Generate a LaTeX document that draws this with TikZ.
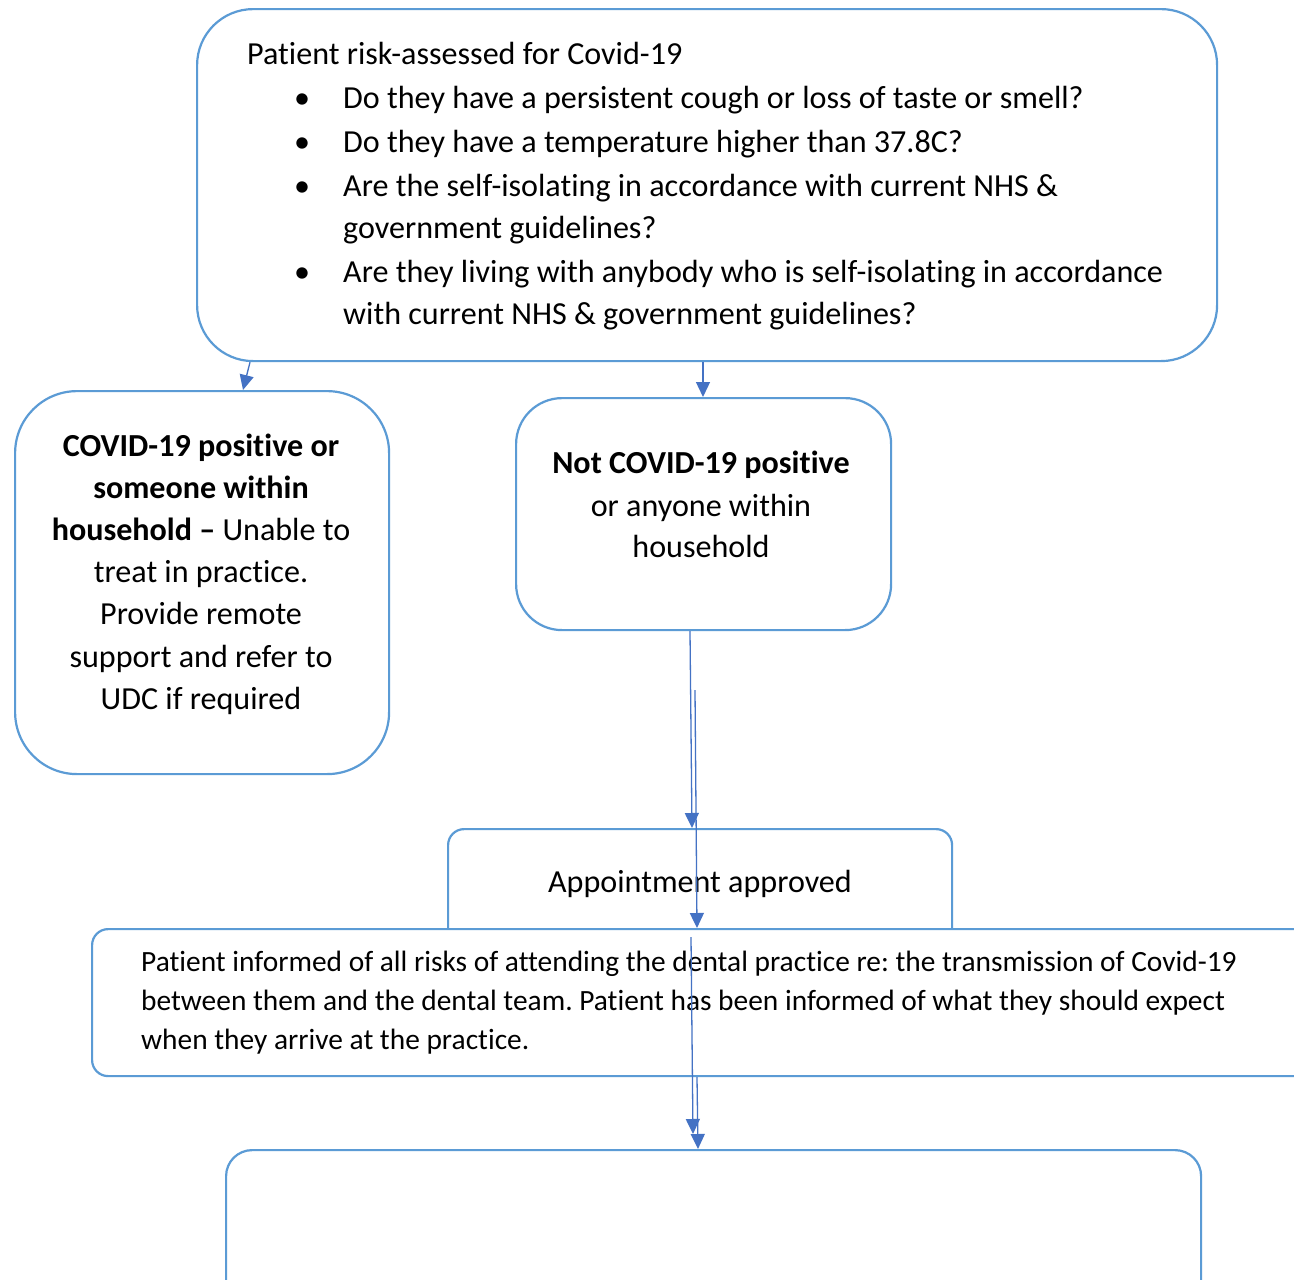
\documentclass[tikz,border=0pt]{standalone}
\usepackage{fontspec}
\setmainfont{Carlito}[Ligatures=NoCommon]
\usetikzlibrary{arrows.meta,calc}
\definecolor{boxblue}{HTML}{5B9BD5}
\definecolor{arrblue}{HTML}{4472C4}
\tikzset{
  box/.style={draw=boxblue, line width=2.2pt, fill=none, inner sep=0pt, anchor=north west},
  arr/.style={draw=arrblue, line width=1.3pt, -{Triangle[length=15pt,width=14pt]}},
  txt/.style={inner sep=0pt, font=\fontsize{32.1}{44}\selectfont},
  stxt/.style={inner sep=0pt, anchor=base west, font=\fontsize{29.4}{39}\selectfont},
  ltxt/.style={txt, anchor=base west},
  ctxt/.style={txt, anchor=base},
  bul/.style={txt, anchor=base}
}
\begin{document}
\frenchspacing
\begin{tikzpicture}[x=1pt,y=-1pt]
\clip (0,0) rectangle (1294,1280);
\fill[white] (0,0) rectangle (1294,1280);
% boxes
\node[box, rounded corners=56pt, minimum width=1020pt, minimum height=352pt] (top) at (196,8) {};
\node[box, rounded corners=62pt, minimum width=374pt, minimum height=383pt] (left) at (14,390) {};
\node[box, rounded corners=46pt, minimum width=375pt, minimum height=232pt] (mid) at (515,397) {};
\node[box, rounded corners=16pt, minimum width=504pt, minimum height=140pt] (appt) at (447,828) {};
\node[box, rounded corners=16pt, minimum width=1260pt, minimum height=147pt, fill=white] (info) at (91,928) {};
\node[box, rounded corners=26pt, minimum width=975pt, minimum height=200pt] (bot) at (225,1149) {};
% top box text
\node[ltxt] (t0) at (247,64) {Patient risk-assessed for Covid-19};
\node[bul] (b1) at (302,108) {•};
\node[ltxt] (t1) at (343,108) {Do they have a persistent cough or loss of taste or smell?};
\node[bul] (b2) at (302,152) {•};
\node[ltxt] (t2) at (343,152) {Do they have a temperature higher than 37.8C?};
\node[bul] (b3) at (302,196) {•};
\node[ltxt] (t3) at (343,196) {Are the self-isolating in accordance with current NHS \&};
\node[ltxt] (t3b) at (343,238) {government guidelines?};
\node[bul] (b4) at (302,282) {•};
\node[ltxt] (t4) at (343,282) {Are they living with anybody who is self-isolating in accordance};
\node[ltxt] (t4b) at (343,324) {with current NHS \& government guidelines?};
% left box text
\node[ctxt] (l1) at (201,456) {\bfseries COVID-19 positive or};
\node[ctxt] (l2) at (201,498) {\bfseries someone within};
\node[ctxt] (l3) at (201,540) {\textbf{household –} Unable to};
\node[ctxt] (l4) at (201,582) {treat in practice.};
\node[ctxt] (l5) at (201,624) {Provide remote};
\node[ctxt] (l6) at (201,667) {support and refer to};
\node[ctxt] (l7) at (201,709) {UDC if required};
% middle box text
\node[ctxt] (m1) at (701,473) {\bfseries Not COVID-19 positive};
\node[ctxt] (m2) at (701,516) {or anyone within};
\node[ctxt] (m3) at (701,557) {household};
% appointment
\node[ctxt] (a1) at (700,892) {Appointment approved};
% info text
\node[stxt] (i1) at (141,971) {Patient informed of all risks of attending the dental practice re: the transmission of Covid-19};
\node[stxt] (i2) at (141,1010) {between them and the dental team. Patient has been informed of what they should expect};
\node[stxt] (i3) at (141,1049) {when they arrive at the practice.};
% connectors
\coordinate (s1) at (695,690);
\coordinate (s2) at (691,937);
\coordinate (e2) at (693,1134);
\draw[arr] ([xshift=54pt]top.south west) -- ([xshift=229pt]left.north west);
\draw[arr] ([xshift=507pt]top.south west) -- ([xshift=188pt]mid.north west);
\draw[arr] ([xshift=175pt]mid.south west) -- ([xshift=245pt]appt.north west);
\draw[arr] (s1) -- ([xshift=606pt]info.north west);
\draw[arr] (s2) -- (e2);
\draw[arr] ([xshift=606pt]info.south west) -- ([xshift=473pt]bot.north west);
\end{tikzpicture}
\end{document}
